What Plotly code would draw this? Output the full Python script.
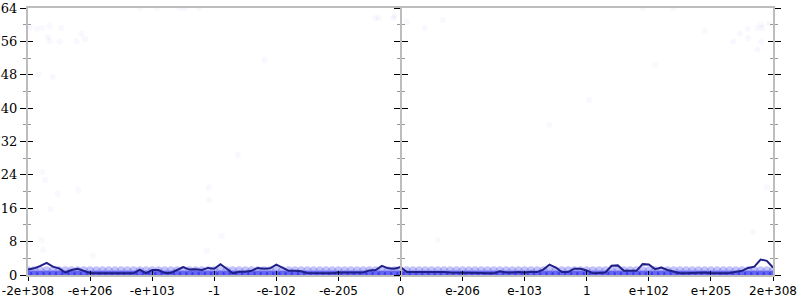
import numpy as np
import plotly.graph_objects as go

# x positions are in "tick index" units: ticks at -6..6
tick_vals = [-6, -5, -4, -3, -2, -1, 0, 1, 2, 3, 4, 5, 6]
tick_text = ["-2e+308", "-e+206", "-e+103", "-1", "-e-102", "-e-205", "0",
             "e-206", "e-103", "1", "e+102", "e+205", "2e+308"]

line_x = list(np.linspace(-6, 6, 121))
line_y = [1.3, 1.6, 2.2, 2.9, 2.0, 1.6, 0.6, 1.2, 1.5, 1.0,
          0.5, 0.4, 0.4, 0.4, 0.4, 0.4, 0.4, 0.4, 1.3, 0.4,
          1.2, 1.2, 0.5, 0.5, 1.2, 1.9, 1.3, 1.4, 1.2, 1.7,
          1.5, 2.6, 1.5, 0.4, 0.8, 0.8, 1.0, 1.7, 1.5, 1.6,
          2.5, 1.8, 1.0, 1.0, 0.9, 0.5, 0.5, 0.4, 0.4, 0.4,
          0.6, 0.6, 0.6, 0.6, 0.6, 1.1, 1.2, 2.2, 1.6, 1.5,
          1.9, 0.7, 0.7, 0.7, 0.8, 0.8, 0.8, 0.7, 0.6, 0.6,
          0.6, 0.5, 0.5, 0.5, 0.4, 0.4, 0.9, 0.6, 0.6, 0.7,
          0.6, 0.8, 0.7, 1.3, 2.5, 1.8, 0.7, 0.7, 1.5, 1.5,
          1.1, 0.4, 0.5, 0.6, 2.2, 2.3, 1.0, 1.0, 1.0, 2.6,
          2.5, 1.4, 1.8, 1.2, 0.8, 0.4, 0.4, 0.5, 0.6, 0.6,
          0.5, 0.4, 0.4, 0.5, 0.8, 1.0, 1.7, 2.0, 3.7, 3.4, 1.8]

# dense band of samples at low values
band_levels = [0, 1]
band_alpha = [0.60, 0.28]

# sparse individual samples
pts_x = [-5.97, -5.86, -5.77, -5.65, -5.46, -5.68, -5.65, -5.49, -5.22, -5.14,
         -5.08, -5.83, -5.60, -4.20, -3.93, -3.56, -3.48, -3.24,
         -0.41, -0.35, -0.10, -0.11, 0.10, 0.39, 0.68,
         4.90, 5.47, 5.36, 5.59, 5.60, 5.75, 5.81, 5.83, 5.94, 5.81, 5.75,
         -5.77, -5.72, -5.52, -5.19, -5.64,
         -5.78, -5.76, -4.96, -2.88, -3.12, 0.60, 5.67,
         -3.09, -3.09, -2.19, -2.62, 3.04, 2.40, 3.90, 4.40, 5.90, 4.10]
pts_y = [59.4, 59.0, 59.2, 59.7, 59.2, 57.0, 56.1, 55.9, 56.1, 57.8,
         56.6, 48.0, 47.5, 64.0, 64.0, 64.0, 64.0, 64.0,
         61.6, 61.6, 62.1, 61.6, 60.7, 59.2, 61.1,
         58.5, 57.8, 55.9, 59.0, 56.8, 59.2, 60.0, 59.2, 60.2, 55.9, 54.0,
         24.7, 22.8, 19.4, 20.4, 15.8,
         8.4, 6.0, 4.6, 9.4, 5.8, 8.4, 10.3,
         21.0, 18.0, 51.6, 28.8, 42.0, 36.0, 64.0, 64.0, 21.0, 50.4]

AXIS_GRAY = "#bdbdbd"
fig = go.Figure()

for lvl, a in zip(band_levels, band_alpha):
    fig.add_trace(go.Scatter(
        x=line_x, y=[lvl] * len(line_x), mode="markers",
        marker=dict(size=9, color=f"rgba(40,40,235,{a})", line=dict(width=0)),
        hoverinfo="skip", showlegend=False))

fig.add_trace(go.Scatter(
    x=pts_x, y=pts_y, mode="markers",
    marker=dict(size=6, color="rgba(110,110,240,0.05)", line=dict(width=0)),
    hoverinfo="skip", showlegend=False))

fig.add_trace(go.Scatter(
    x=line_x, y=line_y, mode="lines",
    line=dict(color="#1f1f88", width=2),
    hoverinfo="skip", showlegend=False))

# empty traces so the extra (tick-only) axes get drawn
for ya in ["y2", "y3", "y4", "y5", "y6"]:
    fig.add_trace(go.Scatter(x=[None], y=[None], yaxis=ya, mode="markers",
                             hoverinfo="skip", showlegend=False))
fig.add_trace(go.Scatter(x=[None], y=[None], xaxis="x2", mode="markers",
                         hoverinfo="skip", showlegend=False))

yr = [0, 64]
common_y = dict(range=yr, dtick=8, tick0=0, showgrid=False, zeroline=False,
                fixedrange=True, automargin=False)
minor_out = dict(dtick=4, ticks="outside", ticklen=3, tickcolor="#999999",
                 showgrid=False)
minor_in = dict(dtick=4, ticks="inside", ticklen=3, tickcolor="#999999",
                showgrid=False)

fig.update_layout(
    width=800, height=300,
    margin=dict(l=28, r=27, t=8, b=25, autoexpand=False),
    paper_bgcolor="white", plot_bgcolor="white",
    showlegend=False,
    xaxis=dict(range=[-6, 6], tickmode="array", tickvals=tick_vals,
               ticktext=tick_text, ticks="outside", ticklen=4, tickcolor="black",
               showgrid=False, zeroline=False, showline=True, mirror=True,
               linecolor=AXIS_GRAY, linewidth=2, automargin=False,
               tickfont=dict(family="DejaVu Sans", size=12, color="black")),
    xaxis2=dict(range=[-6, 6], overlaying="x", anchor="y", side="bottom",
                tickmode="array", tickvals=tick_vals, ticks="inside",
                ticklen=4, tickcolor="black", showticklabels=False,
                showgrid=False, zeroline=False, showline=False, automargin=False),
    yaxis=dict(**common_y, side="left", ticks="outside", ticklen=6,
               tickcolor="black", showline=True, linecolor=AXIS_GRAY, linewidth=2,
               minor=dict(**minor_out),
               tickfont=dict(family="DejaVu Serif", size=13, color="black")),
    yaxis2=dict(**common_y, overlaying="y", side="left", anchor="x",
                ticks="inside", ticklen=5, tickcolor="black",
                showticklabels=False, showline=False, minor=dict(**minor_in)),
    yaxis3=dict(**common_y, overlaying="y", side="left", anchor="free",
                position=0.5, ticks="outside", ticklen=6, tickcolor="black",
                showticklabels=False, showline=True, linecolor=AXIS_GRAY,
                linewidth=2, minor=dict(**minor_out)),
    yaxis4=dict(**common_y, overlaying="y", side="left", anchor="free",
                position=0.5, ticks="inside", ticklen=6, tickcolor="black",
                showticklabels=False, showline=False, minor=dict(**minor_in)),
    yaxis5=dict(**common_y, overlaying="y", side="right", anchor="x",
                ticks="outside", ticklen=6, tickcolor="black",
                showticklabels=False, showline=True, linecolor=AXIS_GRAY,
                linewidth=2, minor=dict(**minor_out)),
    yaxis6=dict(**common_y, overlaying="y", side="right", anchor="x",
                ticks="inside", ticklen=5, tickcolor="black",
                showticklabels=False, showline=False, minor=dict(**minor_in)),
)

fig.write_html("out.html")
